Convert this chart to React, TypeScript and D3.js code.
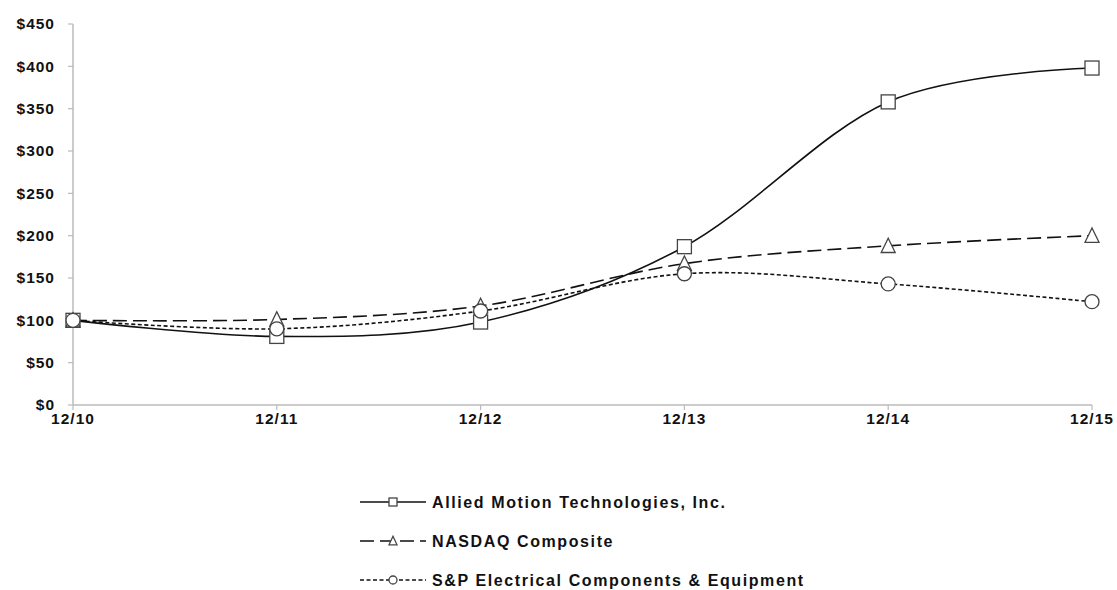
import React from "react";
import * as d3 from "d3";

const periods = ["12/10", "12/11", "12/12", "12/13", "12/14", "12/15"];
const alliedValues = [100, 81, 98, 187, 358, 398];
const nasdaqValues = [100, 101, 117, 167, 188, 200];
const spValues = [100, 90, 111, 155, 143, 122];
const yTicks = [0, 50, 100, 150, 200, 250, 300, 350, 400, 450];

const seriesNames = [
  "Allied Motion Technologies, Inc.",
  "NASDAQ Composite",
  "S&P Electrical Components & Equipment",
];

const W = 1117;
const H = 590;
const left = 73;
const right = 1092;
const top = 24;
const bottom = 405;
const font = "'Liberation Sans', Arial, sans-serif";

type Marker = "square" | "triangle" | "circle";

function drawMarker(kind: Marker, x: number, y: number, s: number, key: string) {
  if (kind === "square")
    return <rect key={key} x={x - s / 2} y={y - s / 2} width={s} height={s} fill="white" stroke="#444" strokeWidth={1.3} />;
  if (kind === "triangle") {
    const h = s * 0.95;
    return (
      <path
        key={key}
        d={`M${x},${y - h / 2 - 1}L${x + s / 2},${y + h / 2}L${x - s / 2},${y + h / 2}Z`}
        fill="white"
        stroke="#444"
        strokeWidth={1.3}
      />
    );
  }
  return <circle key={key} cx={x} cy={y} r={s / 2} fill="white" stroke="#444" strokeWidth={1.3} />;
}

export default function App() {
  const x = d3.scalePoint<string>().domain(periods).range([left, right]);
  const y = d3.scaleLinear().domain([0, 450]).range([bottom, top]);

  const lineGen = d3
    .line<number>()
    .x((_, i) => x(periods[i]) as number)
    .y((d) => y(d))
    .curve(d3.curveCardinal.tension(0));

  const series = [
    { name: seriesNames[0], values: alliedValues, dash: "", marker: "square" as Marker },
    { name: seriesNames[1], values: nasdaqValues, dash: "14,6", marker: "triangle" as Marker },
    { name: seriesNames[2], values: spValues, dash: "4,2.5", marker: "circle" as Marker },
  ];

  return (
    <svg width={W} height={H} style={{ position: "absolute", left: 0, top: 0, background: "white" }}>
      {/* axes */}
      <line x1={left} x2={left} y1={top} y2={bottom} stroke="#bbb" strokeWidth={1.5} />
      <line x1={left} x2={right} y1={bottom} y2={bottom} stroke="#bbb" strokeWidth={1.5} />
      {yTicks.map((t) => (
        <g key={t}>
          <line x1={left - 5} x2={left} y1={y(t)} y2={y(t)} stroke="#bbb" strokeWidth={1.2} />
          <text x={55} y={y(t)} dy="0.35em" textAnchor="end" fontFamily={font} fontWeight="bold" fontSize={15.5} letterSpacing={1} fill="#111">
            ${t}
          </text>
        </g>
      ))}
      {periods.map((p) => (
        <g key={p}>
          <line x1={x(p)} x2={x(p)} y1={bottom} y2={bottom + 5} stroke="#bbb" strokeWidth={1.2} />
          <text x={x(p)} y={bottom + 19} textAnchor="middle" fontFamily={font} fontWeight="bold" fontSize={15.5} letterSpacing={1} fill="#111">
            {p}
          </text>
        </g>
      ))}

      {/* lines */}
      {series.map((s) => (
        <path
          key={s.name}
          d={lineGen(s.values) || ""}
          fill="none"
          stroke="#111"
          strokeWidth={1.6}
          strokeDasharray={s.dash}
        />
      ))}
      {/* markers */}
      {series.map((s) =>
        s.values.map((v, i) =>
          drawMarker(s.marker, x(periods[i]) as number, y(v), 14, `${s.name}-${i}`)
        )
      )}

      {/* legend */}
      {series.map((s, i) => {
        const ly = 502 + i * 39;
        return (
          <g key={`lg-${s.name}`}>
            <line x1={360} x2={426} y1={ly} y2={ly} stroke="#111" strokeWidth={1.6} strokeDasharray={s.dash} />
            {drawMarker(s.marker, 393, ly, 8, `lgm-${i}`)}
            <text x={432} y={ly} dy="0.35em" fontFamily={font} fontWeight="bold" fontSize={16} letterSpacing={1.6} fill="#111">
              {s.name}
            </text>
          </g>
        );
      })}
    </svg>
  );
}
